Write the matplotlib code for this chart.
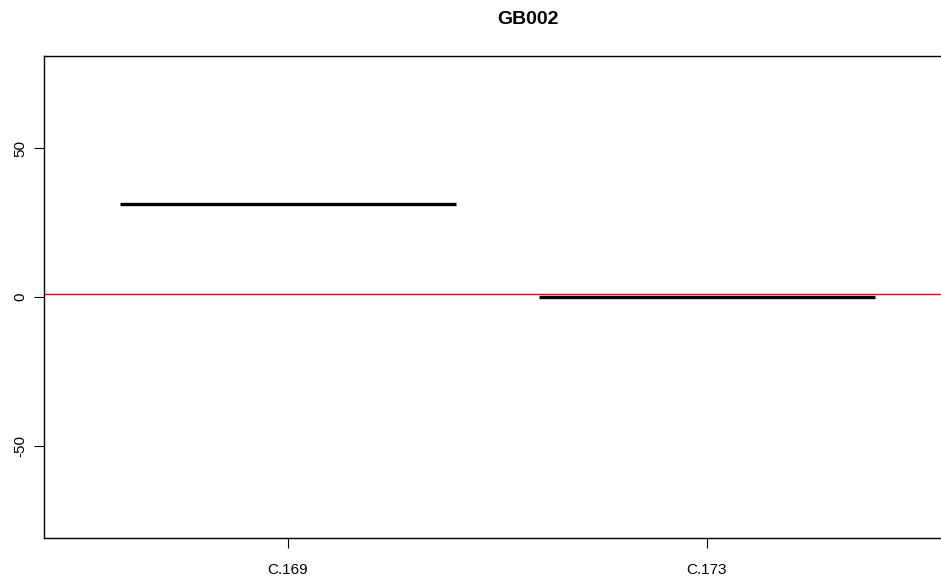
import numpy as np
import matplotlib.pyplot as plt

plt.rcParams['font.family'] = ['Liberation Sans', 'DejaVu Sans']

# one value per group, drawn as collapsed boxes (median bars)
groups = ['C.169', 'C.173']
values = [31.2, -0.1]
ref_level = 1.0

fig = plt.figure(figsize=(9.41, 5.81), dpi=100)
# plot region runs a little past the right edge of the figure
ax = fig.add_axes([44 / 941, 43 / 581, 968 / 941, 482 / 581])

pos = np.arange(1, len(groups) + 1)
ax.hlines(values, pos - 0.4, pos + 0.4, colors='black', linewidth=2.4)
ax.axhline(ref_level, color='red', linewidth=1)

ax.set_xlim(0.418, 2.728)
ax.set_ylim(-81.1, 81.1)
ax.set_xticks(pos)
ax.set_xticklabels(groups)
ax.set_yticks([-50, 0, 50])
ax.set_yticklabels(['-50', '0', '50'], rotation=90, va='center')
ax.tick_params(axis='both', length=7, width=0.8, labelsize=11)
ax.tick_params(axis='x', pad=11)
ax.tick_params(axis='y', pad=5)
for s in ax.spines.values():
    s.set_linewidth(1)

fig.text(528 / 941, 1 - 19 / 581, 'GB002', ha='center', va='center',
         fontsize=14, fontweight='bold')

fig.savefig('out.png', dpi=100)
